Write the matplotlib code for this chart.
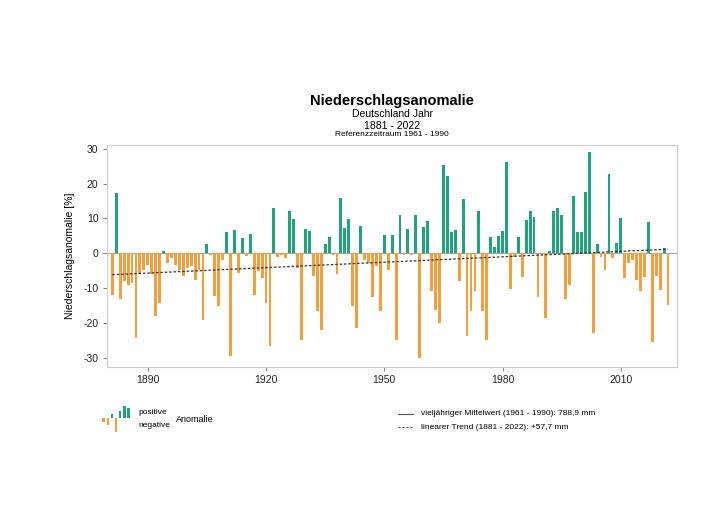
import numpy as np
import matplotlib
matplotlib.use('Agg')
import matplotlib.pyplot as plt

plt.rcParams['font.family'] = ['Liberation Sans', 'DejaVu Sans']
plt.rcParams['axes.unicode_minus'] = False

# Daten: Niederschlagsanomalie Deutschland [%], Referenz 1961-1990
jahre = list(range(1881, 2023))
anomalie = [
    -12, 17.4, -13, -8, -9, -8.5, -24.2, -6, -4.7, -3.2,          # 1881-1890
    -6, -18, -14.2, 0.6, -2.8, -1.3, -3.2, -4.7, -6.6, -4.2,      # 1891-1900
    -3.7, -7.5, -4.7, -19, 2.8, -0.5, -12.3, -15, -1.8, 6,        # 1901-1910
    -29.4, 6.6, -5.6, 4.3, -0.7, 5.5, -11.8, -5.1, -7, -14.2,     # 1911-1920
    -26.6, 13.1, -1.0, -0.6, -1.2, 12.2, 9.9, -4.2, -24.7, 7,     # 1921-1930
    6.5, -6.6, -16.6, -21.8, 2.7, 4.6, -0.5, -5.9, 16, 7.2,       # 1931-1940
    9.8, -15.1, -21.3, 7.9, -1.8, -2.8, -12.5, -3.7, -16.6, 5.3,  # 1941-1950
    -4.7, 5.3, -24.7, 11, -0.4, 7, -0.4, 10.9, -29.9, 7.5,        # 1951-1960
    9.3, -10.9, -16.3, -19.9, 25.3, 22.3, 6, 6.6, -8, 15.6,       # 1961-1970
    -23.7, -16.6, -10.9, 12.2, -16.6, -24.7, 4.7, 1.7, 4.9, 6.5,  # 1971-1980
    26.1, -10.2, -1, 4.7, -6.9, 9.6, 12.2, 10.4, -12.5, -0.5,     # 1981-1990
    -18.5, 0.8, 12.2, 13, 11, -13.2, -9, 16.5, 6, 6,              # 1991-2000
    17.7, 29, -22.8, 2.8, -0.9, -4.7, 22.8, -1.3, 3, 10,          # 2001-2010
    -7, -2.8, -1.8, -7.5, -10.9, -6.8, 8.9, -25.4, -6.5, -10.6,   # 2011-2020
    1.5, -14.9,                                                   # 2021-2022
]

trend_jahre = [1881, 2022]
trend_werte = [-6.1, 1.2]

# Legendensymbol
symbol_werte = [-2, -3, 1.5, -6, 3, 5, 4]

gruen = '#22a47a'
orange = '#f0a03e'

fig = plt.figure(figsize=(7.12, 5.11), dpi=100)
ax = fig.add_axes([0.150, 0.282, 0.801, 0.434])

farben = [gruen if v > 0 else orange for v in anomalie]
ax.bar(jahre, anomalie, width=0.72, color=farben, zorder=2)
ax.axhline(0, color='#a0a0a0', lw=0.8, zorder=1)
ax.plot(trend_jahre, trend_werte, color='#333333', lw=0.9,
        linestyle=(0, (2, 1.5)), zorder=3)

ax.set_xlim(1879.6, 2024.3)
ax.set_ylim(-32.5, 31)
ax.set_xticks([1890, 1920, 1950, 1980, 2010])
ax.set_yticks([-30, -20, -10, 0, 10, 20, 30])
for s in ax.spines.values():
    s.set_color('#cccccc')
    s.set_linewidth(0.8)
ax.tick_params(axis='both', colors='#888888', labelcolor='#222222',
               labelsize=7.5, length=3, width=0.8, pad=3)
ax.set_ylabel('Niederschlagsanomalie [%]', fontsize=7.5, labelpad=6)

# Titel
fig.text(0.551, 0.802, 'Niederschlagsanomalie', ha='center', va='center',
         fontsize=10.5, fontweight='bold')
fig.text(0.551, 0.776, 'Deutschland Jahr', ha='center', va='center', fontsize=7.5)
fig.text(0.551, 0.754, '1881 - 2022', ha='center', va='center', fontsize=7.5)
fig.text(0.551, 0.736, 'Referenzzeitraum 1961 - 1990', ha='center', va='center',
         fontsize=6)

# Legende links
iax = fig.add_axes([0.142, 0.153, 0.042, 0.055])
iax.bar(range(len(symbol_werte)), symbol_werte, width=0.6,
        color=[gruen if v > 0 else orange for v in symbol_werte])
iax.set_ylim(-6.5, 5.5)
iax.axis('off')
fig.text(0.194, 0.192, 'positive', fontsize=6, va='center')
fig.text(0.194, 0.168, 'negative', fontsize=6, va='center')
fig.text(0.247, 0.179, 'Anomalie', fontsize=6.5, va='center')

# Legende rechts
fig.add_artist(plt.Line2D([0.559, 0.580], [0.190, 0.190], color='#555555', lw=0.8))
fig.add_artist(plt.Line2D([0.559, 0.580], [0.164, 0.164], color='#555555', lw=0.8,
                          linestyle=(0, (2, 1.5))))
fig.text(0.591, 0.190, 'vieljähriger Mittelwert (1961 - 1990): 788,9 mm',
         fontsize=6, va='center')
fig.text(0.591, 0.164, 'linearer Trend (1881 - 2022): +57,7 mm',
         fontsize=6, va='center')

fig.savefig('out.png', dpi=100)
